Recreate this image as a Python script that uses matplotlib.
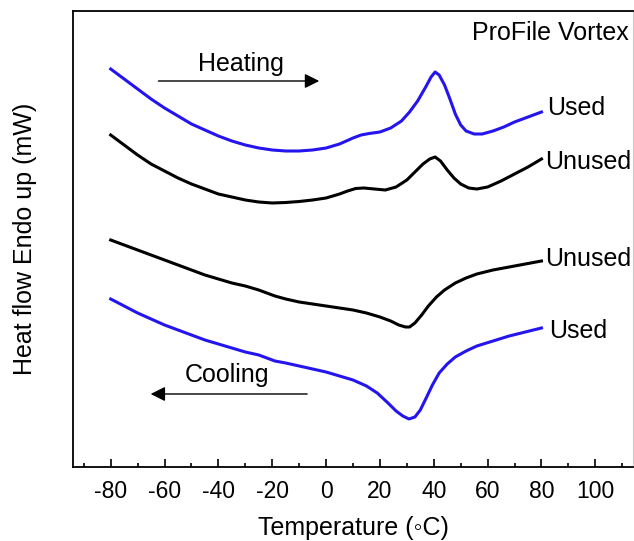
import numpy as np
import matplotlib
matplotlib.use('Agg')
import matplotlib.pyplot as plt
from matplotlib.ticker import MultipleLocator

plt.rcParams['font.family'] = ['Liberation Sans', 'DejaVu Sans']

# heating scans (temperature in C, heat flow in arbitrary mW)
heat_used_t = [-80, -75, -70, -65, -60, -55, -50, -45, -40, -35, -30, -25, -20, -15, -10, -5,
               0, 5, 10, 13, 16, 20, 24, 28, 31, 34, 37, 39, 40.5, 42, 44, 46, 48, 50, 52,
               55, 58, 62, 66, 70, 75, 80]
heat_used_q = [3.98, 3.88, 3.78, 3.68, 3.59, 3.51, 3.43, 3.37, 3.31, 3.26, 3.22, 3.19, 3.17,
               3.16, 3.16, 3.17, 3.19, 3.23, 3.29, 3.32, 3.335, 3.35, 3.39, 3.46, 3.55, 3.66,
               3.80, 3.90, 3.95, 3.92, 3.82, 3.68, 3.53, 3.42, 3.36, 3.33, 3.33, 3.36, 3.40,
               3.45, 3.50, 3.55]

heat_unused_t = [-80, -75, -70, -65, -60, -55, -50, -45, -40, -35, -30, -25, -20, -15, -10,
                 -5, 0, 5, 8, 11, 14, 18, 22, 26, 30, 33, 36, 38.5, 40.5, 42.5, 45, 47.5,
                 50, 53, 56, 60, 65, 70, 75, 80]
heat_unused_q = [3.32, 3.22, 3.12, 3.03, 2.96, 2.89, 2.83, 2.78, 2.73, 2.70, 2.67, 2.65,
                 2.64, 2.645, 2.655, 2.67, 2.69, 2.73, 2.76, 2.785, 2.79, 2.78, 2.77, 2.80,
                 2.87, 2.95, 3.03, 3.08, 3.10, 3.06, 2.97, 2.89, 2.83, 2.79, 2.78, 2.80,
                 2.86, 2.93, 3.00, 3.08]

# cooling scans
cool_unused_t = [-80, -75, -70, -65, -60, -55, -50, -45, -40, -35, -30, -25, -22, -19, -15,
                 -10, -5, 0, 5, 10, 15, 20, 24, 27, 29.5, 31, 33, 35.5, 38, 41, 44, 48, 52,
                 56, 62, 68, 74, 80]
cool_unused_q = [2.27, 2.22, 2.17, 2.12, 2.07, 2.02, 1.97, 1.92, 1.88, 1.84, 1.81, 1.77,
                 1.74, 1.71, 1.68, 1.65, 1.63, 1.61, 1.59, 1.57, 1.54, 1.50, 1.46, 1.42,
                 1.40, 1.40, 1.44, 1.52, 1.61, 1.70, 1.77, 1.84, 1.89, 1.93, 1.97, 2.00,
                 2.03, 2.06]

cool_used_t = [-80, -75, -70, -65, -60, -55, -50, -45, -40, -35, -30, -25, -22, -19, -15,
               -10, -5, 0, 5, 10, 15, 19, 23, 26, 28.5, 30.8, 33, 35, 37, 39.5, 42, 45, 48,
               52, 56, 62, 68, 74, 80]
cool_used_q = [1.68, 1.61, 1.54, 1.48, 1.42, 1.37, 1.32, 1.27, 1.23, 1.19, 1.15, 1.12,
               1.09, 1.06, 1.04, 1.01, 0.98, 0.95, 0.91, 0.87, 0.81, 0.74, 0.64, 0.56,
               0.51, 0.48, 0.50, 0.57, 0.68, 0.82, 0.94, 1.03, 1.10, 1.16, 1.21, 1.26,
               1.31, 1.35, 1.39]

x_ticks = [-80, -60, -40, -20, 0, 20, 40, 60, 80, 100]

blue = '#2414ee'

fig = plt.figure(figsize=(6.34, 5.41), dpi=100)
ax = fig.add_axes([73/634, 74/541, 560/634, 456/541])

ax.plot(heat_used_t, heat_used_q, color=blue, lw=2.2)
ax.plot(heat_unused_t, heat_unused_q, color='black', lw=2.2)
ax.plot(cool_unused_t, cool_unused_q, color='black', lw=2.2)
ax.plot(cool_used_t, cool_used_q, color=blue, lw=2.2)

ax.set_xlim(-94, 114)
ax.set_ylim(0, 4.56)
ax.set_xticks(x_ticks)
ax.xaxis.set_minor_locator(MultipleLocator(10))
ax.set_yticks([])
ax.tick_params(axis='x', which='major', direction='in', length=6, width=1.2,
               labelsize=16.5, pad=9)
ax.tick_params(axis='x', which='minor', direction='in', length=3, width=1.2)
ax.set_xticklabels([str(t) for t in x_ticks])
for s in ['left', 'bottom', 'top']:
    ax.spines[s].set_linewidth(1.3)
ax.spines['right'].set_color('#cccccc')

ax.set_xlabel('Temperature (\u25e6C)', fontsize=18, labelpad=9.5)
ax.set_ylabel('Heat flow Endo up (mW)', fontsize=18, labelpad=26)

# curve labels
ax.text(82.1, 3.59, 'Used', fontsize=18, va='center', ha='left')
ax.text(81.4, 3.05, 'Unused', fontsize=18, va='center', ha='left')
ax.text(81.4, 2.08, 'Unused', fontsize=18, va='center', ha='left')
ax.text(82.8, 1.36, 'Used', fontsize=18, va='center', ha='left')
ax.text(112.6, 4.34, 'ProFile Vortex', fontsize=18, va='center', ha='right')

# scan direction arrows
ax.text(-31.7, 4.03, 'Heating', fontsize=18, va='center', ha='center')
ax.annotate('', xy=(-1.5, 3.86), xytext=(-63.3, 3.86),
            arrowprops=dict(arrowstyle='-|>', lw=1, color='black', mutation_scale=22))
ax.text(-36.9, 0.92, 'Cooling', fontsize=18, va='center', ha='center')
ax.annotate('', xy=(-66.2, 0.73), xytext=(-6.0, 0.73),
            arrowprops=dict(arrowstyle='-|>', lw=1, color='black', mutation_scale=22))

fig.savefig('out.png', dpi=100)
